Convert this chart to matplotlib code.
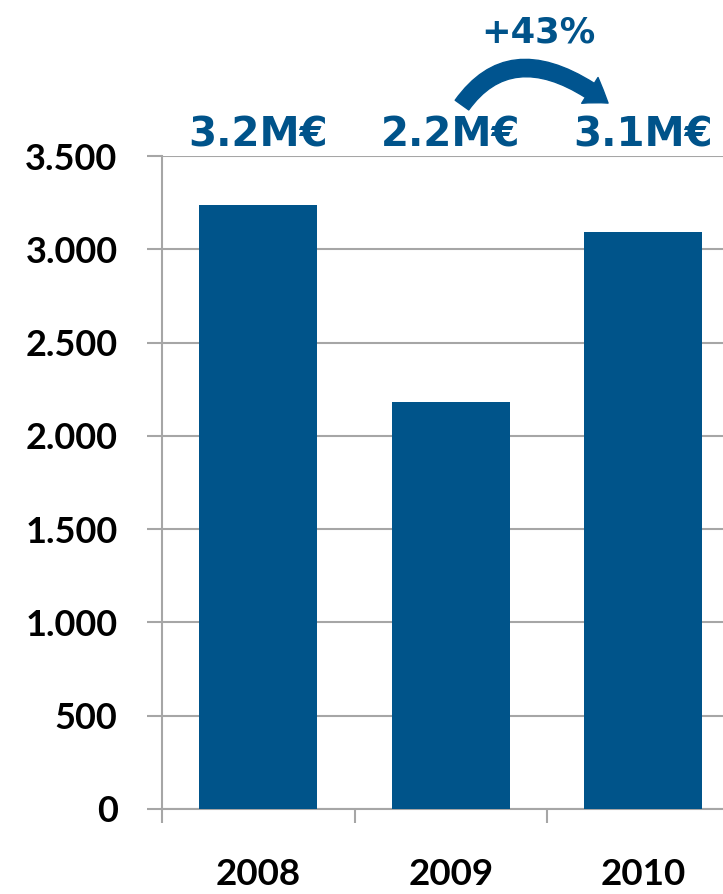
import numpy as np
import matplotlib
matplotlib.use("Agg")
import matplotlib.pyplot as plt
from matplotlib.patches import FancyArrowPatch
from matplotlib.path import Path

years = ["2008", "2009", "2010"]
values = [3235, 2180, 3090]
value_labels = ["3.2M€", "2.2M€", "3.1M€"]
growth_label = "+43%"
y_ticks = [0, 500, 1000, 1500, 2000, 2500, 3000, 3500]
y_tick_labels = ["0", "500", "1.000", "1.500", "2.000", "2.500", "3.000", "3.500"]

bar_color = "#00548A"
text_color = "#00538A"
grid_color = "#A6A6A6"

fig = plt.figure(figsize=(7.23, 8.94), dpi=100)
# axes runs past the right edge, like the cropped original
ax = fig.add_axes([0.2241, 0.0951, 0.7988, 0.7304])

x = np.arange(len(years))
ax.bar(x, values, width=0.615, color=bar_color, zorder=3)

ax.set_xlim(-0.5, len(years) - 0.5)
ax.set_ylim(0, 3500)

ax.set_yticks(y_ticks)
ax.set_yticklabels(y_tick_labels)
ax.yaxis.grid(True, color=grid_color, linewidth=1.5, zorder=0)
ax.tick_params(axis="y", length=11, width=1.5, color=grid_color, pad=21,
               labelsize=26)

# category boundaries get the tick marks, the year labels go in between
ax.set_xticks(np.arange(len(years) + 1) - 0.5)
ax.set_xticklabels([])
ax.set_xticks(x, minor=True)
ax.set_xticklabels(years, minor=True)
ax.tick_params(axis="x", which="major", length=10, width=1.5, color=grid_color)
ax.tick_params(axis="x", which="minor", length=0, pad=35, labelsize=26.5)

for lbl in ax.get_yticklabels() + ax.get_xticklabels(minor=True):
    lbl.set_family("Lato")
    lbl.set_fontweight("bold")
    lbl.set_color("black")

for s in ["top", "right"]:
    ax.spines[s].set_visible(False)
for s in ["left", "bottom"]:
    ax.spines[s].set_color(grid_color)
    ax.spines[s].set_linewidth(1.5)

trans = ax.get_xaxis_transform()
for i, lab in enumerate(value_labels):
    ax.text(x[i], 1.0138, lab, transform=trans, ha="center", va="baseline",
            fontsize=29, fontweight="bold", family="DejaVu Sans",
            color=text_color, clip_on=False)

ax.text(1.453, 1.1745, growth_label, transform=trans, ha="center",
        va="baseline", fontsize=25.5, fontweight="bold", family="DejaVu Sans",
        color=text_color, clip_on=False)

# curved arrow 2009 -> 2010, quadratic curve so the start is steep
arc = Path([(1.058, 1.078), (1.33, 1.19), (1.817, 1.081)],
           [Path.MOVETO, Path.CURVE3, Path.CURVE3])
arrow = FancyArrowPatch(path=arc, transform=trans,
                        arrowstyle="simple,head_length=16,head_width=22,tail_width=12",
                        mutation_scale=1, color="#00548F", clip_on=False, zorder=5)
ax.add_patch(arrow)

fig.savefig("out.png", dpi=100)
